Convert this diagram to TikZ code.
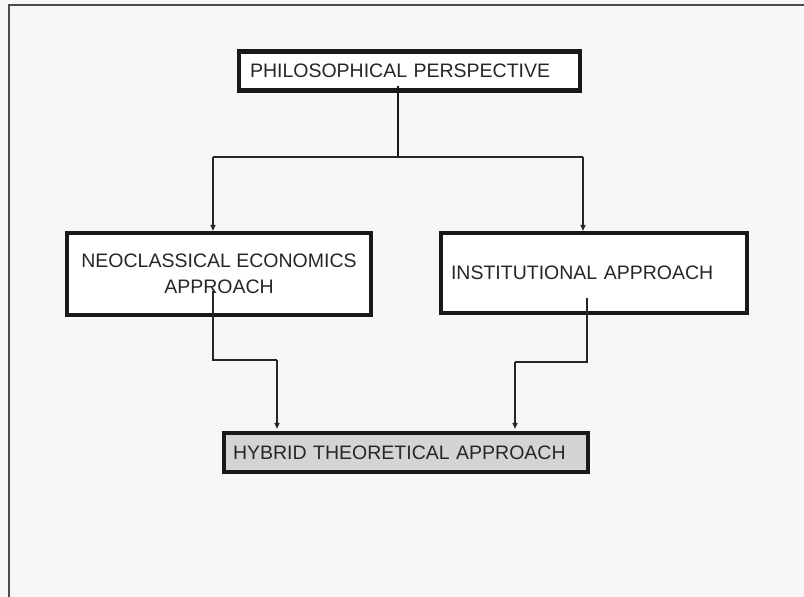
\documentclass[tikz,border=0pt]{standalone}
\usepackage{fontspec}
\setmainfont{Liberation Sans}
\usetikzlibrary{arrows.meta,calc}
\begin{document}
\begin{tikzpicture}[x=1pt,y=-1pt,
  box/.style={draw=black!90, line width=4.2pt, fill=white, inner ysep=0pt,
    font=\fontsize{19.5}{26}\selectfont, text=black!85},
  conn/.style={draw=black!85, line width=1.2pt},
  arr/.style={conn, -{Triangle[length=6pt,width=5pt]}},
  stem/.style={draw=black!90, line width=2.4pt}]
\fill[black!3] (0,0) rectangle (804,597);
\useasboundingbox (0,0) rectangle (804,597);
\draw[black!70, line width=1.8pt] (9,600) -- (9,5) -- (810,5);

\node[box, minimum height=39pt, text width=319pt, inner xsep=11pt, align=left]
  (phil) at (409.5,71) {PHILOSOPHICAL PERSPECTIVE};
\node[box, minimum width=304pt, minimum height=82pt, align=center]
  (neo) at (219,274) {NEOCLASSICAL ECONOMICS\\APPROACH};
\node[box, minimum height=80pt, text width=286pt, inner xsep=10pt, align=left]
  (inst) at (594,273) {INSTITUTIONAL APPROACH};
\node[box, fill=black!17, minimum height=39pt, text width=346pt, inner xsep=9pt, align=left]
  (hyb) at (406,452.5) {HYBRID THEORETICAL APPROACH};

\coordinate (split) at (398,157);
\coordinate (jl) at (213,157);
\coordinate (jr) at (583,157);
\coordinate (nl) at (213,360);
\coordinate (nr) at (277,360);
\coordinate (il) at (587,362);
\coordinate (ir) at (515,362);

\draw[stem] ($(phil.south -| split)+(0,-7)$) -- (split);
\draw[conn] (jl) -- (jr);
\draw[arr] (jl) -- (jl |- neo.north);
\draw[arr] (jr) -- (jr |- inst.north);

\draw[conn] ($(neo.south -| nl)+(0,-26)$) -- (nl) -- (nr);
\draw[arr] (nr) -- ($(nr |- hyb.north)+(0,-2)$);
\draw[conn] ($(inst.south -| il)+(0,-17)$) -- (il) -- (ir);
\draw[arr] (ir) -- ($(ir |- hyb.north)+(0,-2)$);
\end{tikzpicture}
\end{document}
